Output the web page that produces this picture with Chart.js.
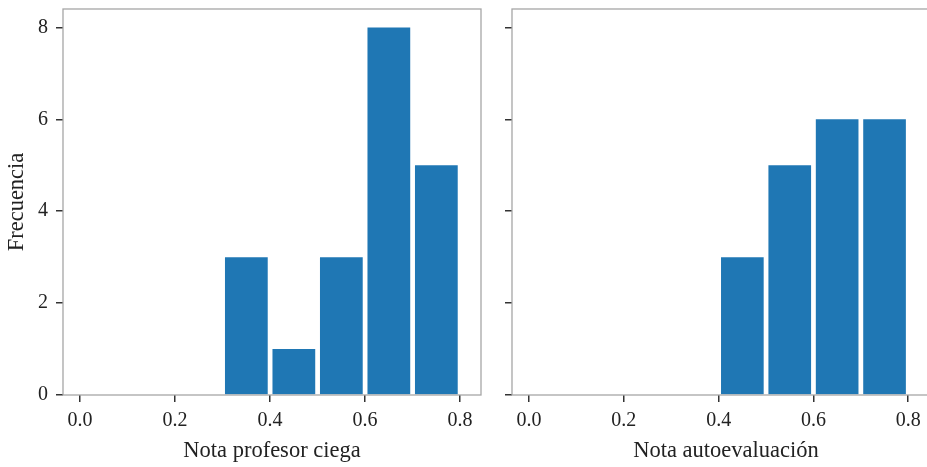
<!DOCTYPE html>
<html>
<head>
<meta charset="utf-8">
<script src="https://cdn.jsdelivr.net/npm/chart.js@4.4.1/dist/chart.umd.min.js"></script>
<style>
    html, body { margin: 0; padding: 0; background: #fff; overflow: hidden; width: 927px; height: 467px; }
    canvas { position: absolute; top: 0; }
    #leftChart { left: 0; }
    #rightChart { left: 490px; }
</style>
</head>
<body>
<canvas id="leftChart" width="490" height="467"></canvas>
<canvas id="rightChart" width="450" height="467"></canvas>
<script>
// histogram bins (edges) and counts
const binEdges = [0.0, 0.1, 0.2, 0.3, 0.4, 0.5, 0.6, 0.7, 0.8];
const profesorCounts = [0, 0, 0, 3, 1, 3, 8, 5];
const autoevalCounts = [0, 0, 0, 0, 3, 5, 6, 6];

const xTicks = [0.0, 0.2, 0.4, 0.6, 0.8];
const yTicks = [0, 2, 4, 6, 8];

const xLabelLeft = 'Nota profesor ciega';
const xLabelRight = 'Nota autoevaluación';
const yLabel = 'Frecuencia';

const BAR_COLOR = '#1f77b4';
const FONT = "'Liberation Serif', 'DejaVu Serif', serif";

function binPoints(counts) {
    return counts.map((c, i) => ({ x: (binEdges[i] + binEdges[i + 1]) / 2, y: c }));
}

// draws the box around the plot area (matplotlib spines)
const framePlugin = {
    id: 'frame',
    afterDraw(chart) {
        const { ctx, chartArea: a } = chart;
        ctx.save();
        ctx.strokeStyle = '#a6a6a6';
        ctx.lineWidth = 1.3;
        ctx.strokeRect(a.left, a.top, a.right - a.left, a.bottom - a.top);
        ctx.restore();
    }
};

// right panel is cut off by the figure edge, so its axis runs a bit further
function makeHist(id, counts, xTitle, showY, yAxisWidth, padRight, xMax) {
    const ctx = document.getElementById(id);
    return new Chart(ctx, {
        type: 'bar',
        data: {
            datasets: [{
                data: binPoints(counts),
                backgroundColor: BAR_COLOR,
                borderWidth: 0,
                barPercentage: 0.9,
                categoryPercentage: 1.0
            }]
        },
        options: {
            responsive: false,
            animation: false,
            layout: { padding: { top: 9, right: padRight, left: 0, bottom: 0 } },
            plugins: { legend: { display: false }, tooltip: { enabled: false } },
            scales: {
                x: {
                    type: 'linear',
                    min: -0.036,
                    max: xMax,
                    offset: false,
                    afterBuildTicks: s => { s.ticks = xTicks.map(v => ({ value: v })); },
                    afterFit: s => { s.height = 72; s.paddingLeft = 0; s.paddingRight = 0; },
                    grid: { display: true, offset: false, drawOnChartArea: false, drawTicks: true, tickLength: 7, color: '#333', lineWidth: 1.5 },
                    border: { display: false },
                    ticks: {
                        color: '#222',
                        padding: 7,
                        maxRotation: 0,
                        font: { family: FONT, size: 20 },
                        callback: v => Number(v).toFixed(1)
                    },
                    title: {
                        display: true,
                        text: xTitle,
                        color: '#222',
                        font: { family: FONT, size: 22.5 },
                        padding: { top: 0, bottom: 2 }
                    }
                },
                y: {
                    min: 0,
                    max: 8.4,
                    afterBuildTicks: s => { s.ticks = yTicks.map(v => ({ value: v })); },
                    afterFit: s => { s.width = yAxisWidth; s.paddingTop = 0; s.paddingBottom = 0; },
                    grid: { display: true, drawOnChartArea: false, drawTicks: true, tickLength: 7, color: '#333', lineWidth: 1.5 },
                    border: { display: false },
                    ticks: {
                        color: '#222',
                        padding: 8,
                        font: { family: FONT, size: 20 },
                        callback: v => showY ? String(v) : ''
                    },
                    title: {
                        display: showY,
                        text: yLabel,
                        color: '#222',
                        font: { family: FONT, size: 22.5 },
                        padding: { top: 4, bottom: 0 }
                    }
                }
            }
        },
        plugins: [framePlugin]
    });
}

makeHist('leftChart', profesorCounts, xLabelLeft, true, 63, 9, 0.844);
makeHist('rightChart', autoevalCounts, xLabelRight, false, 22, 0, 0.867);
</script>
</body>
</html>
